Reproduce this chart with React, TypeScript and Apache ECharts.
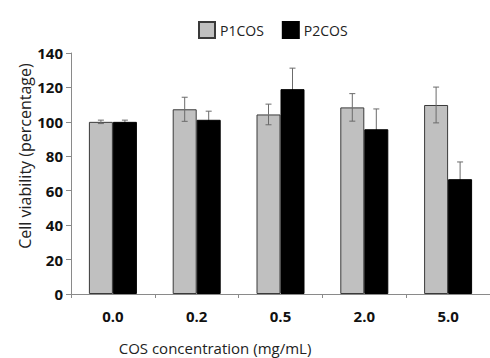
import React, { useEffect, useRef } from "react";
import * as echarts from "echarts";

const categories = ["0.0", "0.2", "0.5", "2.0", "5.0"];
const p1Values = [100, 107.3, 104.3, 108.4, 109.8];
const p1Errors = [1, 7, 6, 8, 10.4];
const p2Values = [100, 101.2, 119, 95.7, 66.7];
const p2Errors = [1, 5, 12.2, 11.8, 10];
const yTicks = { min: 0, max: 140, interval: 20 };

const BAR_W = 24;

function errorSeries(values: number[], errors: number[], offset: number, lowerColor: string) {
  return {
    type: "custom",
    silent: true,
    z: 10,
    data: values.map((v, i) => [i, v, errors[i]]),
    renderItem: (params: any, api: any) => {
      const i = api.value(0);
      const v = api.value(1);
      const e = api.value(2);
      const c = api.coord([i, v]);
      const hi = api.coord([i, v + e]);
      const lo = api.coord([i, v - e]);
      const x = c[0] + offset;
      const cap = 3;
      const style = { stroke: "#6b6b6b", lineWidth: 1 };
      const lowStyle = { stroke: lowerColor, lineWidth: 1 };
      return {
        type: "group",
        children: [
          { type: "line", shape: { x1: x, y1: hi[1], x2: x, y2: c[1] }, style },
          { type: "line", shape: { x1: x - cap, y1: hi[1], x2: x + cap, y2: hi[1] }, style },
          { type: "line", shape: { x1: x, y1: c[1], x2: x, y2: lo[1] }, style: lowStyle },
          { type: "line", shape: { x1: x - cap, y1: lo[1], x2: x + cap, y2: lo[1] }, style: lowStyle },
        ],
      };
    },
  };
}

export default function App() {
  const ref = useRef<HTMLDivElement>(null);
  useEffect(() => {
    if (!ref.current) return;
    const chart = echarts.init(ref.current, undefined, { renderer: "svg" });
    const font = "'Open Sans', sans-serif";
    chart.setOption({
      animation: false,
      backgroundColor: "#ffffff",
      textStyle: { fontFamily: font },
      legend: {
        top: 16,
        left: 193,
        icon: "rect",
        itemWidth: 16,
        itemHeight: 16,
        itemGap: 18,
        textStyle: { fontSize: 14, color: "#222", fontFamily: font },
        data: ["P1COS", "P2COS"],
      },
      grid: { left: 71, top: 53, width: 425, height: 241 },
      xAxis: {
        type: "category",
        data: categories,
        axisLine: { show: true, lineStyle: { color: "#8a8a8a" } },
        axisTick: { show: true, length: 4, lineStyle: { color: "#8a8a8a" } },
        axisLabel: { fontSize: 15, fontWeight: "bold", color: "#111", margin: 14, fontFamily: font },
      },
      yAxis: {
        type: "value",
        min: yTicks.min,
        max: yTicks.max,
        interval: yTicks.interval,
        splitLine: { show: false },
        axisLine: { show: true, lineStyle: { color: "#8a8a8a" } },
        axisTick: { show: true, length: 5, lineStyle: { color: "#8a8a8a" } },
        axisLabel: { fontSize: 15, fontWeight: "bold", color: "#111", margin: 8, fontFamily: font },
      },
      graphic: [
        {
          type: "text",
          x: 25,
          y: 156,
          rotation: Math.PI / 2,
          style: {
            text: "Cell viability (percentage)",
            fontSize: 16,
            fontFamily: font,
            fill: "#222",
            textAlign: "center",
            textVerticalAlign: "middle",
          },
        },
        {
          type: "text",
          x: 215,
          y: 348,
          style: {
            text: "COS concentration (mg/mL)",
            fontSize: 15,
            fontFamily: font,
            fill: "#222",
            textAlign: "center",
            textVerticalAlign: "middle",
          },
        },
      ],
      series: [
        {
          name: "P1COS",
          type: "bar",
          data: p1Values,
          barWidth: BAR_W,
          barGap: "0%",
          itemStyle: { color: "#c0c0c0", borderColor: "#3a3a3a", borderWidth: 1 },
        },
        {
          name: "P2COS",
          type: "bar",
          data: p2Values,
          barWidth: BAR_W,
          barGap: "0%",
          itemStyle: { color: "#000000", borderColor: "#000000", borderWidth: 1 },
        },
        errorSeries(p1Values, p1Errors, -BAR_W / 2, "#6b6b6b"),
        errorSeries(p2Values, p2Errors, BAR_W / 2, "#000000"),
      ],
    });
    return () => chart.dispose();
  }, []);
  return <div ref={ref} style={{ width: 490, height: 358, position: "absolute", left: 0, top: 0 }} />;
}
